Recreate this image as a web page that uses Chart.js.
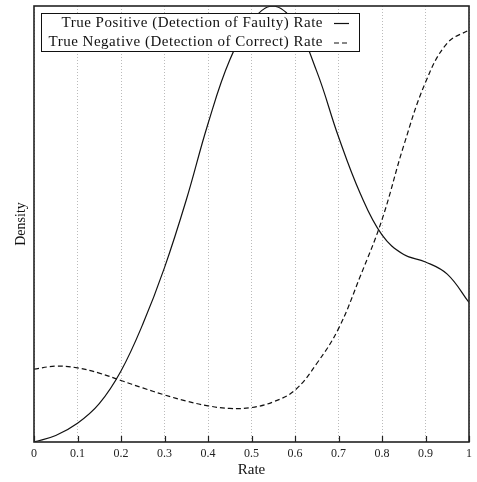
<!DOCTYPE html>
<html>
<head>
  <meta charset="utf-8">
  <title>Detection Rate Density</title>
  <script src="https://cdn.jsdelivr.net/npm/chart.js"></script>
  <style>
    html, body { margin: 0; padding: 0; background: #fff; }
    .chart-box { width: 477px; height: 482px; }
  </style>
</head>
<body>
<div class="chart-box">
  <canvas id="chartDensity"></canvas>
</div>
<script>
  // rate values (x) and density estimates
  const rates = [0, 0.05, 0.1, 0.15, 0.2, 0.25, 0.3, 0.35, 0.4, 0.45, 0.5,
                 0.55, 0.6, 0.65, 0.7, 0.75, 0.8, 0.85, 0.9, 0.95, 1];
  const truePositive = [0, 0.015, 0.043, 0.088, 0.163, 0.27, 0.40, 0.555, 0.73, 0.876, 0.965,
                        1.0, 0.96, 0.85, 0.70, 0.57, 0.475, 0.43, 0.413, 0.385, 0.32];
  const trueNegative = [0.167, 0.174, 0.170, 0.158, 0.141, 0.124, 0.108, 0.094, 0.083, 0.077, 0.079,
                        0.092, 0.119, 0.18, 0.26, 0.38, 0.51, 0.68, 0.825, 0.915, 0.945];
  const xTicks = [0, 0.1, 0.2, 0.3, 0.4, 0.5, 0.6, 0.7, 0.8, 0.9, 1];
  const seriesLabels = ['True Positive (Detection of Faulty) Rate', 'True Negative (Detection of Correct) Rate'];

  const serif = "'Liberation Serif', 'DejaVu Serif', serif";

  // frame, inward ticks and the boxed legend with samples on the right
  const frame = {
    id: 'frame',
    afterDraw(chart) {
      const { ctx, chartArea: a, scales: { x } } = chart;
      ctx.save();
      ctx.strokeStyle = '#222';
      ctx.lineWidth = 1.2;
      xTicks.forEach(v => {
        const px = Math.round(x.getPixelForValue(v)) + 0.5;
        ctx.beginPath();
        ctx.moveTo(px, a.bottom);
        ctx.lineTo(px, a.bottom - 6);
        ctx.stroke();
      });
      ctx.lineWidth = 1.6;
      ctx.strokeRect(a.left, a.top, a.width, a.height);

      // legend
      const bx = 41, by = 13, bw = 318, bh = 38;
      ctx.fillStyle = '#fff';
      ctx.fillRect(bx, by, bw, bh);
      ctx.lineWidth = 1;
      ctx.strokeStyle = '#111';
      ctx.strokeRect(bx + 0.5, by + 0.5, bw, bh);
      ctx.font = '15px ' + serif;
      ctx.letterSpacing = '0.5px';
      ctx.fillStyle = '#111';
      ctx.textAlign = 'right';
      ctx.textBaseline = 'middle';
      chart.data.datasets.forEach((ds, i) => {
        const ty = by + 10 + i * 19.5;
        ctx.fillText(seriesLabels[i], 323, ty);
        ctx.beginPath();
        ctx.setLineDash(ds.borderDash || []);
        ctx.lineWidth = 1.2;
        ctx.moveTo(334, ty + 0.5);
        ctx.lineTo(349, ty + 0.5);
        ctx.stroke();
        ctx.setLineDash([]);
      });
      ctx.restore();
    }
  };

  new Chart(document.getElementById('chartDensity').getContext('2d'), {
    type: 'line',
    data: {
      labels: rates,
      datasets: [
        { label: seriesLabels[0], data: rates.map((r, i) => ({ x: r, y: truePositive[i] })),
          borderColor: '#111', borderWidth: 1.2, pointRadius: 0, fill: false, tension: 0.4 },
        { label: seriesLabels[1], data: rates.map((r, i) => ({ x: r, y: trueNegative[i] })),
          borderColor: '#111', borderWidth: 1.2, borderDash: [5, 3], pointRadius: 0, fill: false, tension: 0.4 }
      ]
    },
    options: {
      responsive: true,
      maintainAspectRatio: false,
      animation: false,
      layout: { padding: { top: 6, right: 7, left: 0, bottom: 0 } },
      plugins: { legend: { display: false }, tooltip: { enabled: false } },
      scales: {
        x: {
          type: 'linear', min: 0, max: 1,
          afterBuildTicks: s => { s.ticks = xTicks.map(v => ({ value: v })); },
          afterFit: s => { s.height = 40; },
          grid: { color: '#bbb', lineWidth: 1, drawTicks: false },
          border: { display: false, dash: [1, 2] },
          ticks: { padding: 5, color: '#222', font: { family: serif, size: 12 },
                   callback: v => String(v) },
          title: { display: true, text: 'Rate', color: '#111', font: { family: serif, size: 15 },
                   padding: { top: 0, bottom: 3 } }
        },
        y: {
          min: 0, max: 1,
          afterFit: s => { s.width = 34; },
          grid: { display: false },
          border: { display: false },
          ticks: { display: false },
          title: { display: true, text: 'Density', color: '#111', font: { family: serif, size: 14 },
                   padding: { top: 13, bottom: 0 } }
        }
      }
    },
    plugins: [frame]
  });
</script>
</body>
</html>
